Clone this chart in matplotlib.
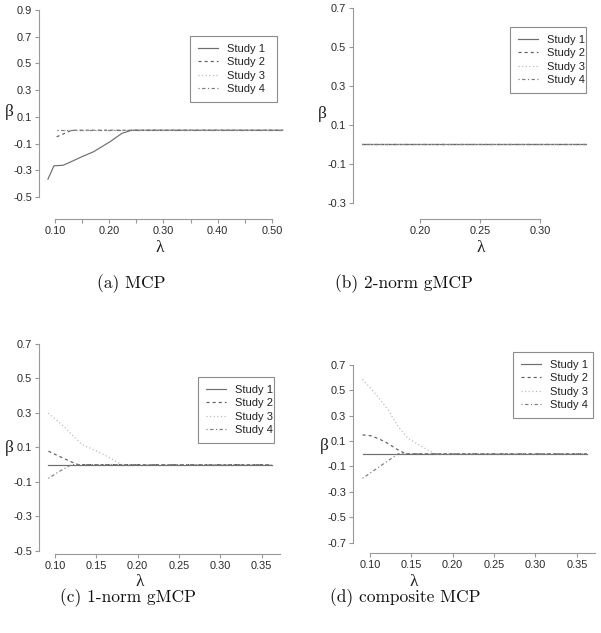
import matplotlib
matplotlib.use('Agg')
import matplotlib.pyplot as plt

plt.rcParams['font.family'] = ['Liberation Sans', 'DejaVu Sans']
plt.rcParams['axes.unicode_minus'] = False
plt.rcParams['lines.scale_dashes'] = False

# ---- data ----
studies = ['Study 1', 'Study 2', 'Study 3', 'Study 4']

# (a) MCP
lam_a1 = [0.087, 0.098, 0.115, 0.130, 0.149, 0.171, 0.201, 0.223, 0.241, 0.520]
beta_a1 = [-0.366, -0.266, -0.262, -0.235, -0.199, -0.161, -0.087, -0.024, 0.0, 0.0]
lam_a2 = [0.103, 0.131, 0.520]
beta_a2 = [-0.049, 0.0, 0.0]
lam_a3 = [0.104, 0.520]
beta_a3 = [0.0, 0.0]
lam_a4 = [0.104, 0.520]
beta_a4 = [0.0, 0.0]

# (b) 2-norm gMCP
lam_b = [0.152, 0.338]
beta_b = [0.0, 0.0]

# (c) 1-norm gMCP
lam_c1 = [0.092, 0.362]
beta_c1 = [0.0, 0.0]
lam_c2 = [0.092, 0.105, 0.122, 0.128, 0.362]
beta_c2 = [0.078, 0.048, 0.011, 0.0, 0.0]
lam_c3 = [0.092, 0.112, 0.132, 0.154, 0.177, 0.182, 0.362]
beta_c3 = [0.299, 0.215, 0.118, 0.071, 0.010, 0.0, 0.0]
lam_c4 = [0.092, 0.105, 0.120, 0.362]
beta_c4 = [-0.080, -0.040, 0.0, 0.0]

# (d) composite MCP
lam_d1 = [0.091, 0.362]
beta_d1 = [0.0, 0.0]
lam_d2 = [0.091, 0.102, 0.118, 0.134, 0.142, 0.145, 0.362]
beta_d2 = [0.149, 0.141, 0.096, 0.030, 0.004, 0.0, 0.0]
lam_d3 = [0.091, 0.106, 0.122, 0.134, 0.146, 0.163, 0.177, 0.180, 0.362]
beta_d3 = [0.587, 0.477, 0.345, 0.214, 0.122, 0.056, 0.004, 0.0, 0.0]
lam_d4 = [0.091, 0.134, 0.362]
beta_d4 = [-0.193, 0.0, 0.0]

yt_a = [-0.5, -0.3, -0.1, 0.1, 0.3, 0.5, 0.7, 0.9]
yt_b = [-0.3, -0.1, 0.1, 0.3, 0.5, 0.7]
yt_c = [-0.5, -0.3, -0.1, 0.1, 0.3, 0.5, 0.7]
yt_d = [-0.7, -0.5, -0.3, -0.1, 0.1, 0.3, 0.5, 0.7]
xt_a = [0.10, 0.15, 0.20, 0.25, 0.30, 0.35, 0.40, 0.45, 0.50]
xl_a = ['0.10', '', '0.20', '', '0.30', '', '0.40', '', '0.50']
xt_b = [0.20, 0.25, 0.30]
xt_cd = [0.10, 0.15, 0.20, 0.25, 0.30, 0.35]

captions = ['(a) MCP', '(b) 2-norm gMCP', '(c) 1-norm gMCP', '(d) composite MCP']

# ---- styles ----
colors = ['#6e6e6e', '#5e5e5e', '#b4b4b4', '#7a7a7a']
styles = ['-', (0, (2.2, 2.2)), (0, (0.8, 1.8)), (0, (0.8, 1.8, 2.4, 1.8))]
axis_col = '#999999'

W, H = 601, 633
fig = plt.figure(figsize=(W / 100, H / 100), dpi=100)


def rect(l, t, r, b):
    return [l / W, 1 - b / H, (r - l) / W, (b - t) / H]


def fp(x, y):
    return x / W, 1 - y / H


def panel(box, xlim, ylim, xb, xticks, xlabels, yticks, series,
          leg, beta_xy, lam_xy, cap, cap_xy):
    ax = fig.add_axes(rect(*box))
    ax.patch.set_visible(False)
    for (lx, by), name, c, ls in zip(series, studies, colors, styles):
        ax.plot(lx, by, color=c, linestyle=ls, lw=0.85, label=name)
    ax.set_xlim(*xlim)
    ax.set_ylim(*ylim)
    for s in ['top', 'right']:
        ax.spines[s].set_visible(False)
    for s in ['left', 'bottom']:
        ax.spines[s].set_color(axis_col)
        ax.spines[s].set_linewidth(0.8)
    ax.spines['left'].set_bounds(yticks[0], yticks[-1])
    ax.spines['bottom'].set_bounds(*xb)
    ax.set_xticks(xticks)
    ax.set_xticklabels(xlabels)
    ax.set_yticks(yticks)
    ax.set_yticklabels([f'{v:.1f}' for v in yticks])
    ax.tick_params(direction='out', length=3, width=0.8, color=axis_col,
                   labelsize=7.9, labelcolor='#2a2a2a', pad=2)
    l, t, r, b = leg
    x0, y0 = fp(l, b)
    lg = ax.legend(loc='upper left', bbox_to_anchor=(x0, y0, (r - l) / W, (b - t) / H),
                   bbox_transform=fig.transFigure, mode='expand', borderaxespad=0,
                   fontsize=8, handlelength=1.8, handletextpad=0.85,
                   borderpad=0.72, labelspacing=0.3, fancybox=False,
                   framealpha=1, edgecolor='#8c8c8c')
    lg.get_frame().set_linewidth(0.8)
    for tx in lg.get_texts():
        tx.set_color('#222222')
    fig.text(*fp(*beta_xy), 'β', ha='center', va='center', fontsize=12.5,
             family=['Liberation Serif', 'DejaVu Serif'], color='#222222')
    fig.text(*fp(*lam_xy), 'λ', ha='center', va='center', fontsize=12.5,
             family=['Liberation Serif', 'DejaVu Serif'], color='#222222')
    fig.text(*fp(*cap_xy), cap, ha='center', va='center', fontsize=12.5,
             family=['cmr10', 'DejaVu Serif'], color='#111111')
    return ax


panel((39, 5, 290, 219), (0.0705, 0.5332), (-0.664, 0.937), (0.10, 0.50),
      xt_a, xl_a, yt_a,
      [(lam_a1, beta_a1), (lam_a2, beta_a2), (lam_a3, beta_a3), (lam_a4, beta_a4)],
      (190, 36, 277, 103), (9, 112), (160, 247.5), captions[0], (131, 284))

panel((353.3, 3, 595, 219), (0.1446, 0.3455), (-0.384, 0.727), (0.20, 0.30),
      xt_b, [f'{v:.2f}' for v in xt_b], yt_b,
      [(lam_b, beta_b)] * 4,
      (510, 27, 586, 94), (322.5, 113.5), (480.5, 247.5), captions[1], (404, 284))

panel((39, 339, 290, 554), (0.0806, 0.3843), (-0.519, 0.729), (0.10, 0.372),
      xt_cd, [f'{v:.2f}' for v in xt_cd], yt_c,
      [(lam_c1, beta_c1), (lam_c2, beta_c2), (lam_c3, beta_c3), (lam_c4, beta_c4)],
      (198, 377, 274, 444), (9, 447.5), (140, 581.5), captions[2], (128, 598))

panel((353.3, 360, 600, 553.3), (0.0798, 0.378), (-0.784, 0.739), (0.10, 0.372),
      xt_cd, [f'{v:.2f}' for v in xt_cd], yt_d,
      [(lam_d1, beta_d1), (lam_d2, beta_d2), (lam_d3, beta_d3), (lam_d4, beta_d4)],
      (513, 352, 593, 418), (324.5, 446), (413.5, 581.5), captions[3], (405, 598))

fig.savefig('out.png', dpi=100)
